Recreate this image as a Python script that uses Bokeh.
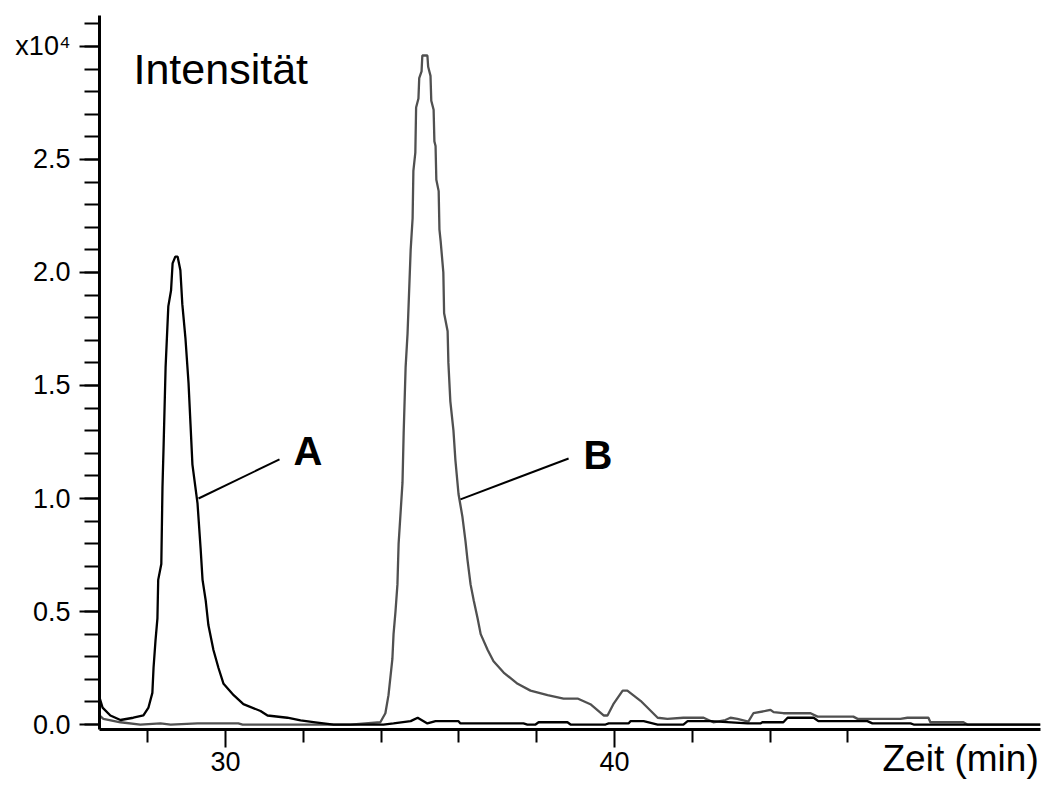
from bokeh.plotting import figure
from bokeh.models import Label, FixedTicker, PrintfTickFormatter
from bokeh.embed import file_html
from bokeh.resources import INLINE

# ---- data (intensity in units of 10^4, time in minutes) ----
time_a = [26.76, 26.84, 27.04, 27.30, 27.63, 27.89, 28.02, 28.12, 28.15, 28.20,
          28.25, 28.27, 28.35, 28.38, 28.41, 28.46, 28.53, 28.60, 28.64, 28.71,
          28.77, 28.84, 28.89, 28.97, 29.05, 29.10, 29.15, 29.28, 29.36, 29.41,
          29.49, 29.56, 29.69, 29.82, 29.95, 30.21, 30.46, 30.90, 31.08, 31.59,
          31.93, 32.31, 32.78, 34.06, 34.32, 34.76, 34.94, 35.19, 35.40, 35.99,
          36.04, 37.66, 37.76, 37.97, 38.05, 38.79, 38.87, 39.77, 39.85, 40.36,
          40.41, 40.75, 41.11, 41.77, 41.88, 42.47, 43.42, 43.75, 43.80, 44.34,
          44.45, 45.12, 45.24, 46.50, 46.63, 47.61, 47.69, 50.95]
intensity_a = [0.12, 0.075, 0.04, 0.02, 0.03, 0.04, 0.075, 0.14, 0.25, 0.37,
               0.47, 0.64, 0.71, 1.05, 1.24, 1.58, 1.85, 1.92, 2.04, 2.07,
               2.07, 2.01, 1.86, 1.71, 1.51, 1.33, 1.15, 0.98, 0.78, 0.64,
               0.55, 0.44, 0.33, 0.25, 0.18, 0.13, 0.09, 0.06, 0.04, 0.03,
               0.018, 0.01, 0.0, 0.0, 0.005, 0.015, 0.03, 0.005, 0.015, 0.015,
               0.005, 0.005, 0.0, 0.0, 0.01, 0.01, 0.0, 0.0, 0.005, 0.005,
               0.015, 0.015, 0.0, 0.0, 0.015, 0.015, 0.005, 0.005, 0.01, 0.01,
               0.03, 0.03, 0.015, 0.015, 0.005, 0.005, 0.0, 0.0]

time_b = [26.76, 26.86, 27.30, 27.81, 28.33, 28.59, 29.28, 30.33, 30.44, 33.21,
          33.98, 34.11, 34.19, 34.29, 34.32, 34.37, 34.42, 34.45, 34.55, 34.58,
          34.63, 34.68, 34.76, 34.81, 34.83, 34.88, 34.90, 34.96, 34.98, 35.04,
          35.06, 35.19, 35.21, 35.27, 35.29, 35.35, 35.37, 35.40, 35.42, 35.48,
          35.50, 35.53, 35.60, 35.62, 35.71, 35.73, 35.78, 35.86, 35.91, 35.99,
          36.09, 36.17, 36.22, 36.30, 36.38, 36.48, 36.56, 36.74, 36.89, 37.15,
          37.51, 37.84, 38.28, 38.69, 39.05, 39.38, 39.72, 39.82, 39.97, 40.21,
          40.33, 40.67, 41.11, 41.36, 41.77, 42.29, 42.54, 42.85, 42.98, 43.16,
          43.44, 43.57, 43.88, 44.01, 44.09, 44.34, 45.04, 45.22, 46.14, 46.25,
          47.35, 47.53, 48.07, 48.12, 48.97, 49.07, 50.95]
intensity_b = [0.04, 0.025, 0.01, 0.0, 0.005, 0.0, 0.005, 0.005, 0.0, 0.0,
               0.01, 0.05, 0.13, 0.29, 0.40, 0.50, 0.62, 0.80, 1.07, 1.29,
               1.58, 1.73, 2.10, 2.24, 2.45, 2.53, 2.73, 2.77, 2.86, 2.89,
               2.96, 2.96, 2.91, 2.87, 2.76, 2.72, 2.58, 2.56, 2.41, 2.36,
               2.19, 2.14, 2.00, 1.82, 1.74, 1.60, 1.43, 1.30, 1.17, 1.02,
               0.92, 0.81, 0.73, 0.62, 0.55, 0.47, 0.40, 0.33, 0.28, 0.23,
               0.18, 0.15, 0.13, 0.115, 0.115, 0.09, 0.04, 0.04, 0.09, 0.15,
               0.15, 0.105, 0.03, 0.025, 0.03, 0.03, 0.01, 0.02, 0.03, 0.025,
               0.013, 0.05, 0.06, 0.065, 0.055, 0.05, 0.05, 0.035, 0.035, 0.025,
               0.025, 0.03, 0.03, 0.01, 0.01, 0.0, 0.0]

series_names = ["A", "B"]
x_major_ticks = [30, 40]
x_minor_ticks = [28, 32, 34, 36, 38, 42, 44, 46]
y_major_ticks = [0.0, 0.5, 1.0, 1.5, 2.0, 2.5, 3.0]
y_minor_ticks = [round(0.1 * k, 1) for k in range(0, 32)]
y_tick_override = {3: "x10\u2074"}
x_title = "Zeit (min)"
y_title = "Intensität"

FONT = "Liberation Sans"

p = figure(width=1042, height=785,
           x_range=(26.761, 50.951), y_range=(-0.022, 3.137),
           output_backend="svg", toolbar_location=None,
           min_border_left=99, min_border_right=2,
           min_border_top=15, min_border_bottom=56)
p.outline_line_color = None
p.grid.visible = False
p.background_fill_color = "white"
p.border_fill_color = "white"

p.line(time_b, intensity_b, line_color="#505050", line_width=2.3)
p.line(time_a, intensity_a, line_color="#000000", line_width=2.3)

# x axis
xa = p.xaxis[0]
xa.ticker = FixedTicker(ticks=x_major_ticks, minor_ticks=x_minor_ticks)
xa.axis_line_width = 3
xa.major_tick_line_width = 2
xa.minor_tick_line_width = 2
xa.major_tick_in = 0
xa.major_tick_out = 18
xa.minor_tick_in = 0
xa.minor_tick_out = 13
xa.major_label_standoff = 4
xa.major_label_text_font = FONT
xa.major_label_text_font_size = "27px"
xa.major_label_text_color = "black"
# the title sits at the right end of the axis: pad it with no-break spaces
xa.axis_label = "\u00a0" * 76 + x_title
xa.axis_label_text_font = FONT
xa.axis_label_text_font_size = "37px"
xa.axis_label_text_font_style = "normal"
xa.axis_label_text_color = "black"
xa.axis_label_standoff = -36

# y axis
ya = p.yaxis[0]
ya.ticker = FixedTicker(ticks=y_major_ticks, minor_ticks=y_minor_ticks)
ya.formatter = PrintfTickFormatter(format="%.1f")
ya.axis_line_width = 3
ya.major_tick_line_width = 2
ya.minor_tick_line_width = 2
ya.major_tick_in = 0
ya.major_tick_out = 20
ya.minor_tick_in = 0
ya.minor_tick_out = 15
ya.major_label_standoff = 9
ya.major_label_text_font = FONT
ya.major_label_text_font_size = "27px"
ya.major_label_text_color = "black"
ya.major_label_overrides = y_tick_override

# texts inside the frame
def add_label(x, y, text, size, bold=False):
    p.add_layout(Label(x=x, y=y, text=text, text_font=FONT,
                       text_font_size=size, text_color="black",
                       text_font_style="bold" if bold else "normal",
                       text_align="left", text_baseline="alphabetic"))

add_label(27.635, 2.902, y_title, "43px")

label_x = [31.75, 39.20]
label_y = [1.212, 1.194]
for name, lx, ly in zip(series_names, label_x, label_y):
    add_label(lx, ly, name, "40px", bold=True)

p.segment(x0=[29.306, 36.04], y0=[1.0, 0.996], x1=[31.388, 38.82], y1=[1.173, 1.177],
          line_color="black", line_width=2)

open("out.html", "w").write(file_html(p, INLINE))
